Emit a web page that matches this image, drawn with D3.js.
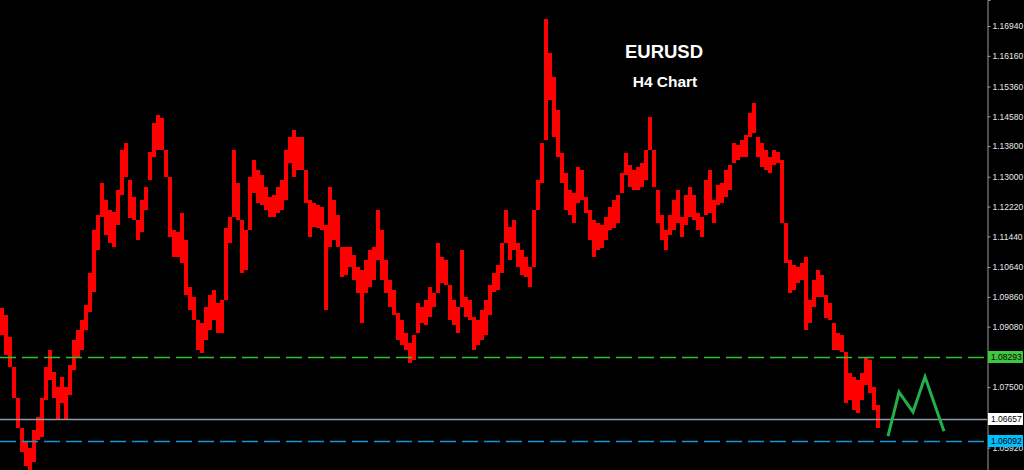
<!DOCTYPE html>
<html><head><meta charset="utf-8">
<script src="https://cdn.jsdelivr.net/npm/d3@7"></script>
<style>html,body{margin:0;padding:0;background:#000;overflow:hidden}</style>
</head><body><svg id="c" width="1024" height="470"></svg>
<script>
// H4 bar highs / lows (EURUSD)
const highs = [
1.0957,1.0939,1.0881,1.0803,1.0722,1.0643,1.0607,1.0591,1.0638,1.0672,
1.0722,1.0803,1.0847,1.0790,1.0750,1.0777,1.0750,1.0808,1.0873,1.0899,
1.0926,1.0965,1.1048,1.1161,1.1200,1.1284,1.1239,1.1213,1.1208,1.1265,
1.1370,1.1388,1.1292,1.1247,1.1187,1.1239,1.1273,1.1365,1.1441,1.1461,
1.1454,1.1370,1.1299,1.1161,1.1156,1.1205,1.1135,1.1012,1.0986,1.0926,
1.0918,1.0960,1.0991,1.1004,1.0970,1.0978,1.1166,1.1195,1.1370,1.1284,
1.1187,1.1161,1.1299,1.1344,1.1318,1.1305,1.1273,1.1247,1.1252,1.1273,
1.1292,1.1370,1.1404,1.1422,1.1404,1.1404,1.1318,1.1239,1.1231,1.1226,
1.1221,1.1174,1.1273,1.1239,1.1200,1.1116,1.1116,1.1116,1.1095,1.1064,
1.1056,1.1082,1.1109,1.1116,1.1213,1.1161,1.1082,1.1030,1.1004,1.0944,
1.0926,1.0892,1.0865,1.0886,1.0970,1.0960,1.0978,1.1012,1.0996,1.1127,
1.1090,1.1082,1.1017,1.0978,1.0960,1.1109,1.0986,1.0978,1.0933,1.0926,
1.0952,1.0978,1.1017,1.1048,1.1069,1.1127,1.1213,1.1169,1.1187,1.1127,
1.1109,1.1090,1.1064,1.1213,1.1292,1.1388,1.1712,1.1624,1.1561,1.1475,
1.1362,1.1310,1.1265,1.1258,1.1326,1.1318,1.1247,1.1213,1.1187,1.1179,
1.1174,1.1195,1.1221,1.1239,1.1252,1.1310,1.1362,1.1331,1.1318,1.1326,
1.1336,1.1370,1.1456,1.1370,1.1265,1.1200,1.1161,1.1200,1.1239,1.1265,
1.1195,1.1252,1.1273,1.1252,1.1205,1.1195,1.1292,1.1318,1.1239,1.1278,
1.1284,1.1318,1.1331,1.1388,1.1383,1.1396,1.1409,1.1467,1.1493,1.1404,
1.1388,1.1370,1.1352,1.1370,1.1365,1.1344,1.1179,1.1082,1.1069,1.1064,
1.1075,1.1090,1.0978,1.1030,1.1056,1.1043,1.0991,1.0970,1.0918,1.0892,
1.0886,1.0842,1.0787,1.0777,1.0769,1.0787,1.0829,1.0821,1.0750,1.0703];
const lows = [
1.0886,1.0834,1.0803,1.0722,1.0643,1.0581,1.0544,1.0533,1.0554,1.0612,
1.0620,1.0716,1.0769,1.0722,1.0664,1.0709,1.0664,1.0729,1.0795,1.0829,
1.0847,1.0899,1.0947,1.1000,1.1109,1.1195,1.1148,1.1127,1.1116,1.1174,
1.1252,1.1299,1.1192,1.1187,1.1135,1.1156,1.1213,1.1292,1.1352,1.1370,
1.1370,1.1299,1.1143,1.1090,1.1090,1.1075,1.0991,1.0952,1.0926,1.0847,
1.0839,1.0873,1.0899,1.0926,1.0892,1.0892,1.0978,1.1127,1.1195,1.1187,
1.1048,1.1056,1.1161,1.1258,1.1231,1.1226,1.1213,1.1195,1.1195,1.1205,
1.1213,1.1239,1.1336,1.1299,1.1318,1.1318,1.1231,1.1143,1.1169,1.1166,
1.1161,1.0952,1.1116,1.1135,1.1116,1.1038,1.1043,1.1064,1.1030,1.0996,
1.0918,1.0996,1.1012,1.1030,1.1082,1.1030,1.0996,1.0960,1.0939,1.0873,
1.0860,1.0847,1.0813,1.0821,1.0892,1.0918,1.0912,1.0933,1.0960,1.0996,
1.1022,1.1017,1.0926,1.0912,1.0892,1.0960,1.0933,1.0926,1.0847,1.0860,
1.0873,1.0886,1.0939,1.0999,1.1004,1.1048,1.1127,1.1082,1.1109,1.1064,
1.1043,1.1038,1.1012,1.1064,1.1213,1.1284,1.1396,1.1501,1.1404,1.1352,
1.1284,1.1213,1.1200,1.1179,1.1231,1.1239,1.1205,1.1135,1.1090,1.1109,
1.1114,1.1135,1.1161,1.1166,1.1179,1.1258,1.1305,1.1273,1.1265,1.1265,
1.1273,1.1292,1.1370,1.1273,1.1179,1.1135,1.1109,1.1148,1.1161,1.1179,
1.1143,1.1174,1.1195,1.1187,1.1161,1.1143,1.1200,1.1205,1.1179,1.1226,
1.1231,1.1247,1.1265,1.1336,1.1344,1.1352,1.1352,1.1404,1.1414,1.1352,
1.1326,1.1318,1.1310,1.1331,1.1336,1.1179,1.1075,1.0996,1.1004,1.1022,
1.1030,1.0899,1.0918,1.0960,1.0986,1.0986,1.0931,1.0926,1.0847,1.0847,
1.0842,1.0709,1.0716,1.0690,1.0682,1.0716,1.0756,1.0735,1.0690,1.0643];

const tickValues = [1.16940,1.16160,1.15360,1.14580,1.13800,1.13000,1.12220,1.11440,
                    1.10640,1.09860,1.09080,1.07500,1.05920];
const levelValues = [1.08293, 1.06657, 1.06092];
const levelNames  = ["1.08293", "1.06657", "1.06092"];
const projIdx = [222, 224.75, 228.25, 231.25, 236];
const projVal = [1.0622, 1.0737, 1.0685, 1.0777, 1.0635];
const titleText = "EURUSD";
const subtitleText = "H4 Chart";

const W = 1024, H = 470, axisX = 987;
const svg = d3.select('#c');
svg.append('rect').attr('width', W).attr('height', H).attr('fill', '#000');

const x = d3.scaleLinear().domain([0, 246.75]).range([0, axisX]);
const y = d3.scaleLinear().domain([1.05334, 1.1762]).range([H, 0]);
const bw = x(1) - x(0);

// price bars
svg.append('g').selectAll('rect').data(highs).join('rect')
  .attr('x', (d, i) => x(i))
  .attr('width', bw)
  .attr('y', d => y(d))
  .attr('height', (d, i) => Math.max(1, y(lows[i]) - y(d)))
  .attr('fill', '#ff0000')
  .attr('shape-rendering', 'crispEdges');

// level lines
const levelStyle = [
  {stroke: '#2fc42f', dash: '16,6', bg: '#3ec83e'},
  {stroke: '#8a9aae', dash: null,   bg: '#ffffff'},
  {stroke: '#1597d8', dash: '16,6', bg: '#00bfff'}
];
svg.append('g').selectAll('line').data(levelValues).join('line')
  .attr('x1', 0).attr('x2', axisX)
  .attr('y1', d => Math.round(y(d)) + 0.5).attr('y2', d => Math.round(y(d)) + 0.5)
  .style('stroke', (d, i) => levelStyle[i].stroke)
  .style('stroke-width', '1.5px')
  .style('stroke-dasharray', (d, i) => levelStyle[i].dash || 'none');

// projection zigzag
svg.append('path')
  .datum(projIdx.map((d, i) => [d, projVal[i]]))
  .attr('d', d3.line().x(d => x(d[0])).y(d => y(d[1])))
  .attr('fill', 'none').attr('stroke', '#22b04a').attr('stroke-width', 3)
  .attr('stroke-linejoin', 'miter');

// right price axis
svg.append('rect').attr('x', axisX).attr('y', 0).attr('width', W - axisX).attr('height', H).attr('fill', '#000');
const ax = svg.append('g').attr('transform', `translate(${axisX + 0.5},0)`)
  .call(d3.axisRight(y).tickValues(tickValues).tickSize(3).tickPadding(2)
        .tickFormat(d3.format('.5f')));
ax.select('.domain').attr('stroke', '#9a9a9a');
ax.selectAll('.tick line').attr('stroke', '#9a9a9a');
ax.selectAll('.tick text').attr('fill', '#e8e8e8')
  .style('font-family', '"Liberation Sans", Arial, sans-serif').style('font-size', '8.5px');

// level price labels
const lab = svg.append('g').selectAll('g').data(levelValues).join('g')
  .attr('transform', d => `translate(${axisX + 1},${Math.round(y(d))})`);
lab.append('rect').attr('x', 0).attr('y', -6).attr('width', 35).attr('height', 12)
  .attr('fill', (d, i) => levelStyle[i].bg);
lab.append('text').attr('x', 3).attr('y', 0).attr('dy', '0.35em')
  .text((d, i) => levelNames[i])
  .attr('fill', '#000')
  .style('font-family', '"Liberation Sans", Arial, sans-serif').style('font-size', '8.5px');

// titles
svg.append('text').attr('x', 664).attr('y', 58).attr('text-anchor', 'middle')
  .text(titleText).attr('fill', '#fff')
  .style('font-family', '"Liberation Sans", Arial, sans-serif').style('font-weight', 'bold').style('font-size', '18.5px');
svg.append('text').attr('x', 665).attr('y', 87).attr('text-anchor', 'middle')
  .text(subtitleText).attr('fill', '#fff')
  .style('font-family', '"Liberation Sans", Arial, sans-serif').style('font-weight', 'bold').style('font-size', '15.5px');
</script></body></html>
